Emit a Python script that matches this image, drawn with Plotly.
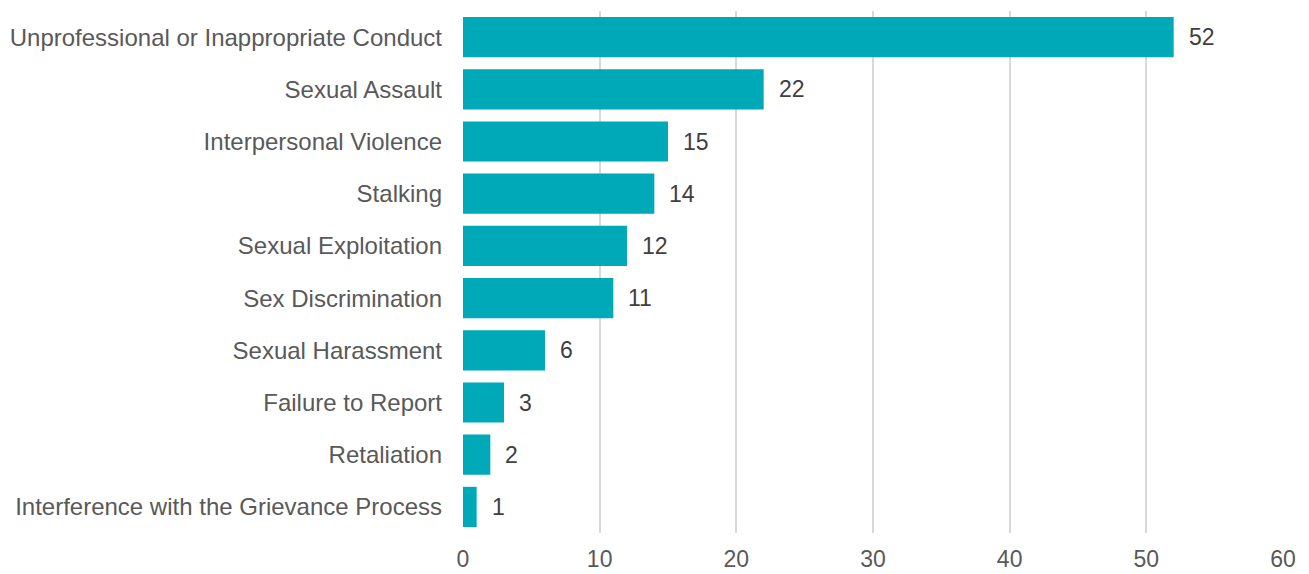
import plotly.graph_objects as go

categories = [
    "Unprofessional or Inappropriate Conduct",
    "Sexual Assault",
    "Interpersonal Violence",
    "Stalking",
    "Sexual Exploitation",
    "Sex Discrimination",
    "Sexual Harassment",
    "Failure to Report",
    "Retaliation",
    "Interference with the Grievance Process",
]
counts = [52, 22, 15, 14, 12, 11, 6, 3, 2, 1]
x_ticks = [0, 10, 20, 30, 40, 50, 60]

font_family = "Liberation Sans, Arial, sans-serif"

fig = go.Figure(
    go.Bar(
        x=counts,
        y=categories,
        orientation="h",
        marker=dict(color="#00A9B7", line=dict(width=0)),
        hoverinfo="x+y",
    )
)

for cat, val in zip(categories, counts):
    fig.add_annotation(
        x=val, y=cat, text=str(val), showarrow=False,
        xanchor="left", xshift=13,
        font=dict(family=font_family, size=23, color="#404040"),
    )

fig.update_layout(
    width=1309, height=574,
    margin=dict(l=463, r=26, t=11, b=41),
    paper_bgcolor="white", plot_bgcolor="white",
    bargap=0.23,
    showlegend=False,
    font=dict(family=font_family, size=23, color="#595959"),
)
fig.update_xaxes(
    range=[0, 60], tickvals=x_ticks,
    showgrid=True, gridcolor="#D9D9D9", gridwidth=2,
    zeroline=False, showline=False,
    automargin=False,
    ticklabelstandoff=10,
    tickfont=dict(size=23, color="#595959"),
)
fig.update_yaxes(
    autorange="reversed",
    showgrid=False, zeroline=False, showline=False,
    automargin=False,
    ticklabelstandoff=20,
    tickfont=dict(size=24, color="#595959"),
)

fig.write_html("out.html")
